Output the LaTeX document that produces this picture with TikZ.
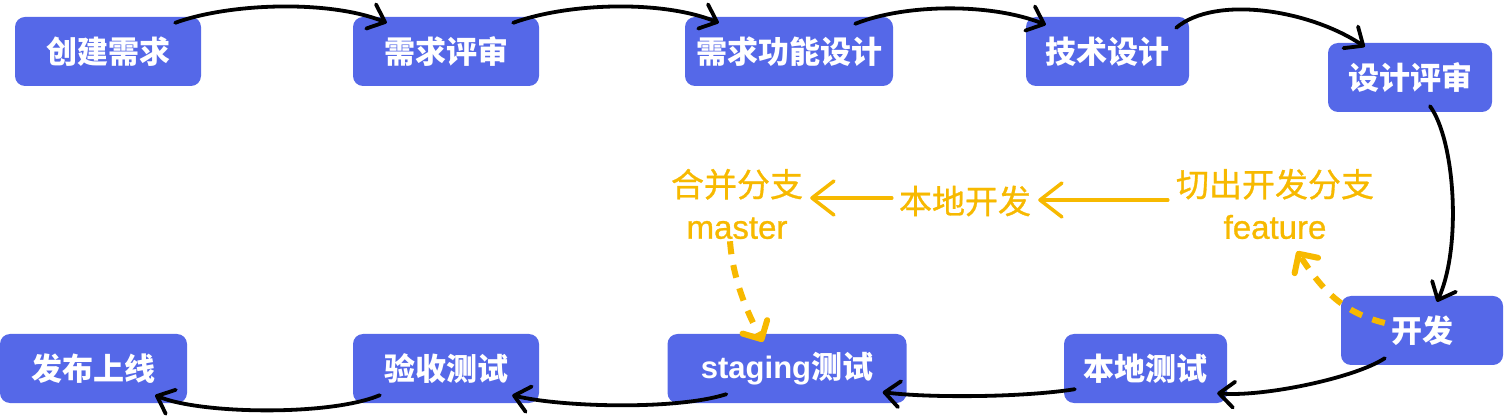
\documentclass[tikz,border=0pt]{standalone}
\usepackage{fontspec}
\setmainfont{Liberation Sans}
\newfontfamily\cjk{Noto Sans CJK SC}
\newfontfamily\cjkmed{Noto Sans CJK SC}[FakeBold=0.9]
\newfontfamily\latmed{Liberation Sans}[FakeBold=0.9]
\usetikzlibrary{arrows.meta,calc}
\definecolor{boxblue}{RGB}{85,104,232}
\definecolor{gold}{RGB}{247,185,0}
\begin{document}
\begin{tikzpicture}[x=1pt,y=-1pt,
  box/.style={fill=boxblue, rounded corners=10pt, minimum height=69pt, text=white,
    font=\fontsize{31}{31}\selectfont\bfseries\cjk, inner sep=0pt},
  lbl/.style={text=gold, font=\fontsize{33}{42}\selectfont\cjkmed, align=center, inner sep=0pt},
  blk/.style={line width=3.8pt, line cap=round, line join=round,
    -{Straight Barb[length=15pt,width=26pt,line cap=round,line join=round]}},
  ysolid/.style={gold, line width=3.5pt, line cap=round, line join=round,
    -{Straight Barb[length=22pt,width=34pt,line cap=round,line join=round]}},
  ydash/.style={gold, line width=6pt, dash pattern=on 13pt off 11pt,
    -{Straight Barb[length=14pt,width=28pt,line cap=round,line join=round]}}
]
\useasboundingbox (0,0) rectangle (1504,419);
% nodes
\node[box, minimum width=186pt] (n1) at (108,51.5) {创建需求};
\node[box, minimum width=186pt] (n2) at (446,51.5) {需求评审};
\node[box, minimum width=208pt] (n3) at (789,51.5) {需求功能设计};
\node[box, minimum width=163pt] (n4) at (1107.5,51.5) {技术设计};
\node[box, minimum width=164pt] (n5) at (1410,77.5) {设计评审};
\node[box, minimum width=162pt] (n6) at (1422,330.5) {开发};
\node[box, minimum width=163pt] (n7) at (1145.5,368.5) {本地测试};
\node[box, minimum width=239pt] (n8) at (787,368.5) {{\rmfamily\bfseries staging}测试};
\node[box, minimum width=186pt] (n9) at (446,368.5) {验收测试};
\node[box, minimum width=187pt] (n10) at (93.5,368.5) {发布上线};
% yellow labels
\node[lbl] (y1) at (1275,204) {切出开发分支\\{\latmed feature}};
\node[lbl] (y2) at (965,201) {本地开发};
\node[lbl] (y3) at (737,204) {合并分支\\{\latmed master}};
% black arrows
\draw[blk] ($(n1.north east)+(-26,6)$) .. controls +(55,-20) and +(-57,-23) .. ($(n2.north west)+(34,6)$);
\draw[blk] ($(n2.north east)+(-26,6)$) .. controls +(55,-20) and +(-57,-23) .. ($(n3.north west)+(34,6)$);
\draw[blk] ($(n3.north east)+(-38,7)$) .. controls +(50,-20) and +(-55,-22) .. ($(n4.north west)+(20,8)$);
\draw[blk] ($(n4.north east)+(-13,11)$) .. controls +(39,-33) and +(-55,-37) .. ($(n5.north west)+(37,4)$);
\draw[blk] ($(n5.south)+(20,-6)$) .. controls +(25,34) and +(25,-55) .. ($(n6.north)+(15,6)$);
\draw[blk] ($(n6.south west)+(44,-7)$) .. controls +(-30,20) and +(45,4) .. ($(n7.south east)+(-10,-10)$);
\draw[blk] ($(n7.south west)+(11,-14)$) .. controls +(-50,8) and +(50,6) .. ($(n8.south east)+(-24,-11)$);
\draw[blk] ($(n8.south west)+(59,-9)$) .. controls +(-50,16) and +(50,12) .. ($(n9.south east)+(-27,-8)$);
\draw[blk] ($(n9.south west)+(27,-8)$) .. controls +(-50,21) and +(45,19) .. ($(n10.south east)+(-32,-8)$);
% yellow arrows
\draw[ysolid] ($(y1.west)+(-8,-4)$) -- ($(y2.east)+(7,-1)$);
\draw[ysolid] ($(y2.west)+(-7,-3)$) -- ($(y3.east)+(7,-6)$);
\draw[ydash] ($(y3.south)+(-7,2)$) .. controls +(3,42) and +(-12,-22) .. ($(n8.north)+(-24,8)$);
\draw[ydash] ($(n6.west)+(44,-7.5)$) .. controls +(-45,-11) and +(23,35) .. ($(y1.south)+(22,12)$);
\end{tikzpicture}
\end{document}
